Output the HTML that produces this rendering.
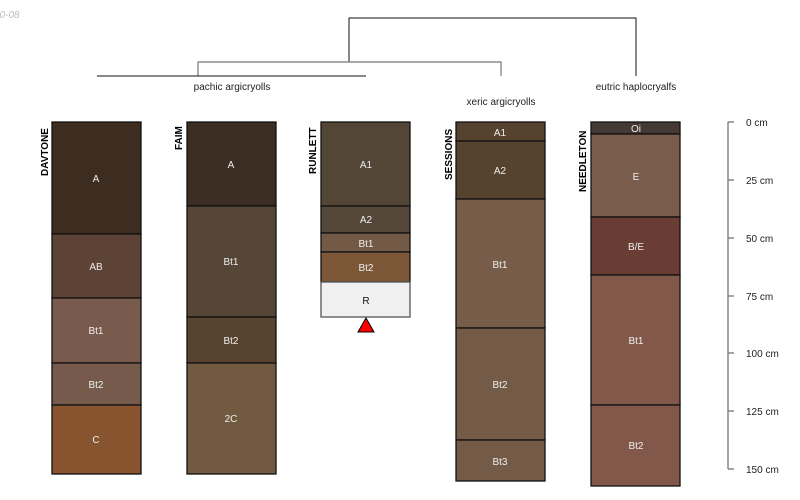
<!DOCTYPE html>
<html><head><meta charset="utf-8"><style>
html,body{margin:0;padding:0;background:#fff;width:800px;height:500px;overflow:hidden}
svg{display:block;font-family:"Liberation Sans",sans-serif}
.h{stroke:#111;stroke-width:1.3}
.l{fill:#eee;font-size:10px;text-anchor:middle}
.n{font-size:10px;font-weight:bold;fill:#000}
.t{font-size:10px;fill:#222}
</style></head><body>
<svg width="800" height="500" viewBox="0 0 800 500">
<text x="-6" y="18" font-size="10" font-style="italic" fill="#bbb">10-08</text>
<!-- dendrogram -->
<polyline points="349,62 349,18 636,18 636,76" fill="none" stroke="#111" stroke-width="1"/>
<polyline points="198,76 198,62 501,62 501,76" fill="none" stroke="#777" stroke-width="1.2"/>
<line x1="97" y1="76" x2="366" y2="76" stroke="#111" stroke-width="1"/>
<text x="232" y="90" class="t" text-anchor="middle">pachic argicryolls</text>
<text x="501" y="105" class="t" text-anchor="middle">xeric argicryolls</text>
<text x="636" y="90" class="t" text-anchor="middle">eutric haplocryalfs</text>

<!-- DAVTONE -->
<g class="h">
<rect x="52" y="122" width="89" height="112" fill="#3c2d20"/>
<rect x="52" y="234" width="89" height="64" fill="#5c4335"/>
<rect x="52" y="298" width="89" height="65" fill="#785b4c"/>
<rect x="52" y="363" width="89" height="42" fill="#765a4b"/>
<rect x="52" y="405" width="89" height="69" fill="#87542f"/>
</g>
<text class="l" x="96" y="182">A</text><text class="l" x="96" y="270">AB</text><text class="l" x="96" y="334">Bt1</text><text class="l" x="96" y="388">Bt2</text><text class="l" x="96" y="443">C</text>
<text class="n" transform="translate(48,176) rotate(-90)">DAVTONE</text>

<!-- FAIM -->
<g class="h">
<rect x="187" y="122" width="89" height="84" fill="#3b2d22"/>
<rect x="187" y="206" width="89" height="111" fill="#564637"/>
<rect x="187" y="317" width="89" height="46" fill="#564430"/>
<rect x="187" y="363" width="89" height="111" fill="#725a40"/>
</g>
<text class="l" x="231" y="168">A</text><text class="l" x="231" y="265">Bt1</text><text class="l" x="231" y="344">Bt2</text><text class="l" x="231" y="422">2C</text>
<text class="n" transform="translate(182,150) rotate(-90)">FAIM</text>

<!-- RUNLETT -->
<g class="h">
<rect x="321" y="122" width="89" height="84" fill="#534637"/>
<rect x="321" y="206" width="89" height="27" fill="#55473a"/>
<rect x="321" y="233" width="89" height="19" fill="#725a47"/>
<rect x="321" y="252" width="89" height="30" fill="#7c5839"/>
<rect x="321" y="282" width="89" height="35" fill="#f0f0f0" stroke="#555"/>
</g>
<text class="l" x="366" y="168">A1</text><text class="l" x="366" y="223">A2</text><text class="l" x="366" y="247">Bt1</text><text class="l" x="366" y="271">Bt2</text><text class="l" x="366" y="304" style="fill:#111">R</text>
<polygon points="366,318 358,332 374,332" fill="#f00" stroke="#000" stroke-width="1"/>
<text class="n" transform="translate(316,174) rotate(-90)">RUNLETT</text>

<!-- SESSIONS -->
<g class="h">
<rect x="456" y="122" width="89" height="19" fill="#56432f"/>
<rect x="456" y="141" width="89" height="58" fill="#56432f"/>
<rect x="456" y="199" width="89" height="129" fill="#765c49"/>
<rect x="456" y="328" width="89" height="112" fill="#735b47"/>
<rect x="456" y="440" width="89" height="41" fill="#735b47"/>
</g>
<text class="l" x="500" y="136">A1</text><text class="l" x="500" y="174">A2</text><text class="l" x="500" y="268">Bt1</text><text class="l" x="500" y="388">Bt2</text><text class="l" x="500" y="465">Bt3</text>
<text class="n" transform="translate(452,180) rotate(-90)">SESSIONS</text>

<!-- NEEDLETON -->
<g class="h">
<rect x="591" y="122" width="89" height="12" fill="#453a33"/>
<rect x="591" y="134" width="89" height="83" fill="#7a5c4d"/>
<rect x="591" y="217" width="89" height="58" fill="#693d33"/>
<rect x="591" y="275" width="89" height="130" fill="#82584a"/>
<rect x="591" y="405" width="89" height="81" fill="#82584a"/>
</g>
<text class="l" x="636" y="132">Oi</text><text class="l" x="636" y="180">E</text><text class="l" x="636" y="250">B/E</text><text class="l" x="636" y="344">Bt1</text><text class="l" x="636" y="449">Bt2</text>
<text class="n" transform="translate(586,192) rotate(-90)">NEEDLETON</text>

<!-- depth axis -->
<g stroke="#777" stroke-width="1.3">
<line x1="728" y1="122" x2="728" y2="469"/>
<line x1="728" y1="122" x2="734" y2="122"/><line x1="728" y1="180" x2="734" y2="180"/>
<line x1="728" y1="238" x2="734" y2="238"/><line x1="728" y1="296" x2="734" y2="296"/>
<line x1="728" y1="353" x2="734" y2="353"/><line x1="728" y1="411" x2="734" y2="411"/>
<line x1="728" y1="469" x2="734" y2="469"/>
</g>
<g class="t" font-size="11">
<text x="746" y="126">0 cm</text><text x="746" y="184">25 cm</text><text x="746" y="242">50 cm</text>
<text x="746" y="300">75 cm</text><text x="746" y="357">100 cm</text><text x="746" y="415">125 cm</text><text x="746" y="473">150 cm</text>
</g>
</svg>
</body></html>
